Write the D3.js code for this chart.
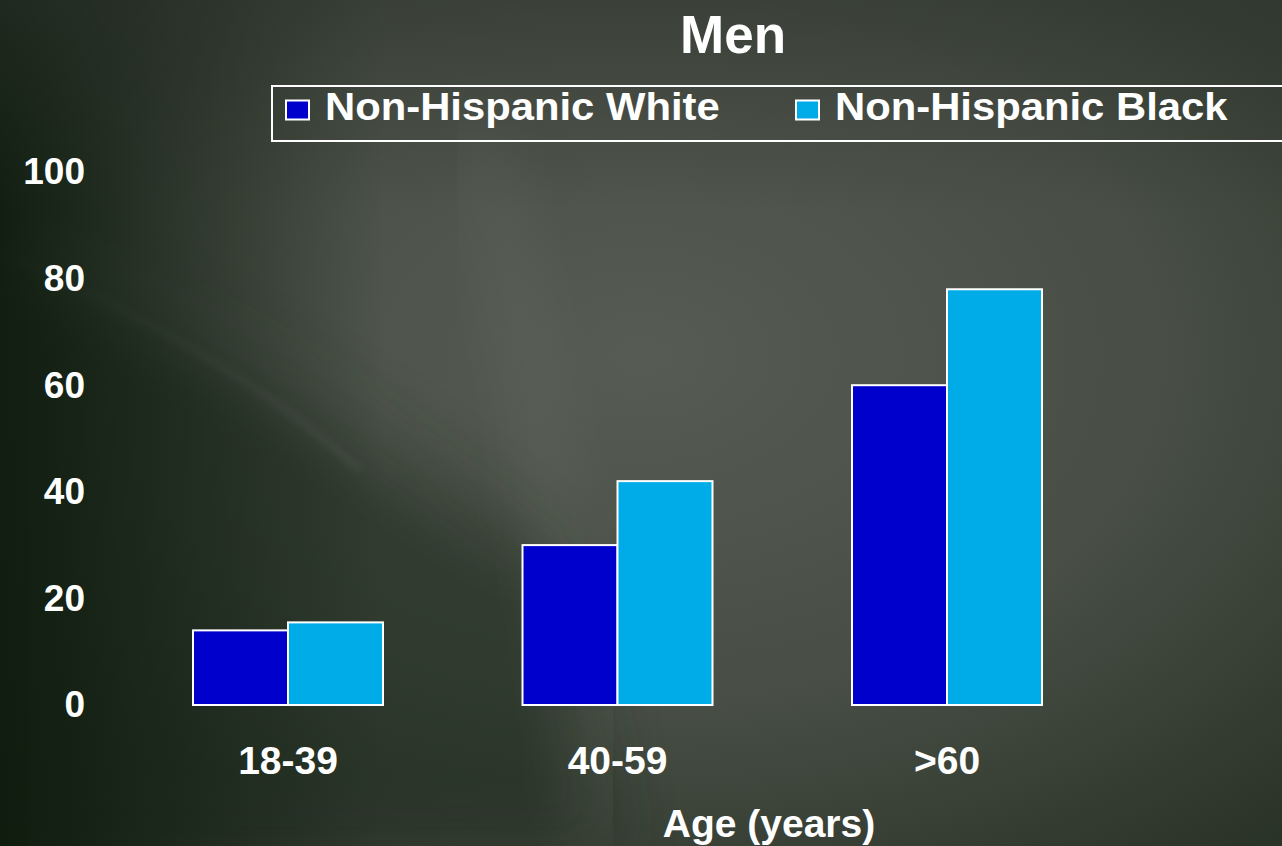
<!DOCTYPE html>
<html>
<head>
<meta charset="utf-8">
<script src="https://cdn.jsdelivr.net/npm/d3@7"></script>
<style>
  body { margin: 0; background: #2c3229; overflow: hidden; }
  text { font-family: "Liberation Sans", Arial, sans-serif; font-weight: bold; fill: #fff; }
</style>
</head>
<body>
<div id="chart"></div>
<script>
// chart size
const width = 1282
const height = 846

// data
const categories = ["18-39", "40-59", ">60"]
const seriesNames = ["Non-Hispanic White", "Non-Hispanic Black"]
const whiteValues = [14, 30, 60]
const blackValues = [15.5, 42, 78]
const yTicks = [0, 20, 40, 60, 80, 100]
const colors = ["#0000cc", "#00ace8"]

const svg = d3.select("#chart").append("svg")
  .attr("width", width)
  .attr("height", height)

// background: dark gradient with soft light streaks
const defs = svg.append("defs")
const bg = defs.append("radialGradient").attr("id", "bg")
  .attr("cx", 0.5).attr("cy", 0.42).attr("r", 0.75)
bg.append("stop").attr("offset", "0%").attr("stop-color", "#565b53")
bg.append("stop").attr("offset", "55%").attr("stop-color", "#484e45")
bg.append("stop").attr("offset", "100%").attr("stop-color", "#2a3327")
const dark = defs.append("linearGradient").attr("id", "dark")
  .attr("x1", 0).attr("y1", 0).attr("x2", 1).attr("y2", 0)
dark.append("stop").attr("offset", "0%").attr("stop-color", "#0c1a0c").attr("stop-opacity", 0.9)
dark.append("stop").attr("offset", "30%").attr("stop-color", "#132013").attr("stop-opacity", 0)
const topDark = defs.append("linearGradient").attr("id", "topDark")
  .attr("x1", 0).attr("y1", 0).attr("x2", 0).attr("y2", 1)
topDark.append("stop").attr("offset", "0%").attr("stop-color", "#2f352d").attr("stop-opacity", 0.5)
topDark.append("stop").attr("offset", "25%").attr("stop-color", "#2f352d").attr("stop-opacity", 0)
defs.append("filter").attr("id", "blur").append("feGaussianBlur").attr("stdDeviation", 30)
defs.append("filter").attr("id", "blur2").append("feGaussianBlur").attr("stdDeviation", 4)

svg.append("rect").attr("width", width).attr("height", height).attr("fill", "url(#bg)")
svg.append("path")
  .attr("d", "M0,250 C200,300 380,420 560,560 L620,846 L0,846 Z")
  .attr("fill", "#1c2a1b").attr("opacity", 0.55).attr("filter", "url(#blur)")
svg.append("path")
  .attr("d", "M0,230 C150,280 330,380 480,520 L560,600 C400,470 200,330 0,280 Z")
  .attr("fill", "#7a8076").attr("opacity", 0.35).attr("filter", "url(#blur)")
svg.append("path")
  .attr("d", "M0,255 C120,300 260,380 360,470")
  .attr("fill", "none").attr("stroke", "#8a9084").attr("stroke-width", 3)
  .attr("opacity", 0.35).attr("filter", "url(#blur2)")
svg.append("path")
  .attr("d", "M470,110 C520,300 560,500 600,846")
  .attr("fill", "none").attr("stroke", "#737a70").attr("stroke-width", 40)
  .attr("opacity", 0.25).attr("filter", "url(#blur)")
svg.append("rect").attr("width", width).attr("height", height).attr("fill", "url(#dark)")
svg.append("rect").attr("width", width).attr("height", height).attr("fill", "url(#topDark)")

// scales
const x0 = d3.scaleBand()
  .domain(categories)
  .range([123.25, 1111.75])
  .paddingInner(0.4234)
  .paddingOuter(0.2117)

const x1 = d3.scaleBand()
  .domain(seriesNames)
  .range([0, x0.bandwidth()])

const y = d3.scaleLinear()
  .domain([0, 100])
  .range([705, 172])

const table = categories.map((c, i) => ({
  cat: c,
  values: [whiteValues[i], blackValues[i]]
}))

// bars
const groups = svg.append("g").selectAll("g")
  .data(table)
  .join("g")
  .attr("transform", d => `translate(${x0(d.cat)},0)`)

groups.selectAll("rect")
  .data(d => d.values.map((v, j) => ({ name: seriesNames[j], value: v, color: colors[j] })))
  .join("rect")
  .attr("x", d => x1(d.name))
  .attr("width", x1.bandwidth())
  .attr("y", d => y(d.value))
  .attr("height", d => y(0) - y(d.value))
  .attr("fill", d => d.color)
  .attr("stroke", "#fff")
  .attr("stroke-width", 2)

// y axis (labels only)
const yAxis = svg.append("g")
  .attr("transform", "translate(85,0)")
  .call(d3.axisLeft(y).tickValues(yTicks).tickSize(0).tickPadding(0))
yAxis.select(".domain").remove()
yAxis.selectAll("text")
  .attr("fill", "#fff")
  .style("font-size", "37px")
  .style("font-family", "'Liberation Sans', Arial, sans-serif")
  .style("font-weight", "bold")

// x axis (labels only)
const xAxis = svg.append("g")
  .attr("transform", "translate(0,760)")
  .call(d3.axisBottom(x0).tickSize(0).tickPadding(0))
xAxis.select(".domain").remove()
xAxis.selectAll("text")
  .attr("dy", "0.35em")
  .attr("fill", "#fff")
  .style("font-size", "39px")
  .style("font-family", "'Liberation Sans', Arial, sans-serif")
  .style("font-weight", "bold")

svg.append("text")
  .attr("x", 769).attr("y", 837)
  .attr("text-anchor", "middle")
  .style("font-size", "39px")
  .text("Age (years)")

// title
svg.append("text")
  .attr("x", 733).attr("y", 53)
  .attr("text-anchor", "middle")
  .style("font-size", "53px")
  .text("Men")

// legend
svg.append("rect")
  .attr("x", 272).attr("y", 86)
  .attr("width", 1020).attr("height", 55)
  .attr("fill", "none").attr("stroke", "#fff").attr("stroke-width", 2)

const legendX = [286, 796]
const legend = svg.append("g").selectAll("g")
  .data(seriesNames)
  .join("g")
  .attr("transform", (d, i) => `translate(${legendX[i]},110)`)
legend.append("rect")
  .attr("x", 0).attr("y", -9.5).attr("width", 23).attr("height", 19)
  .attr("fill", (d, i) => colors[i])
  .attr("stroke", "#fff").attr("stroke-width", 2)
legend.append("text")
  .attr("transform", "translate(39,0) scale(1.1,1)")
  .attr("y", 10)
  .style("font-size", "38px")
  .text(d => d)
</script>
</body>
</html>
